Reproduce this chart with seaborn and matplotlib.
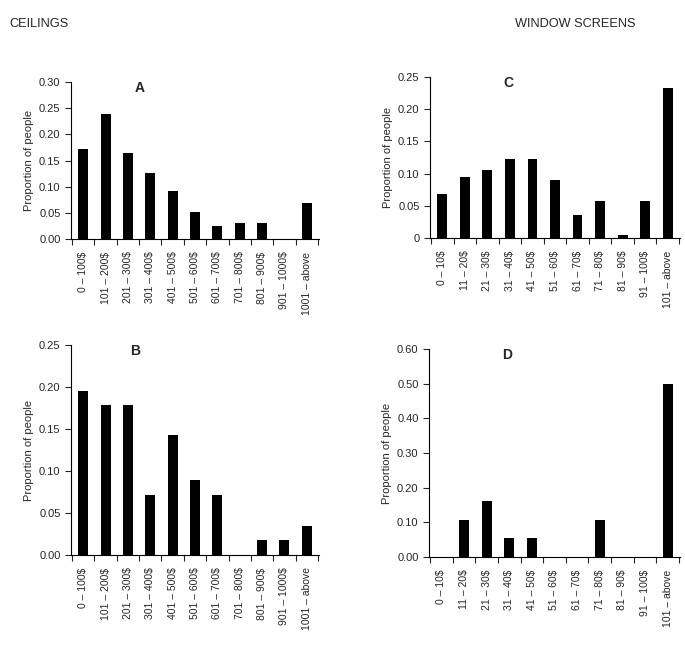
import numpy as np
import pandas as pd
import matplotlib
matplotlib.use('Agg')
import matplotlib.pyplot as plt
import seaborn as sns

# ── data ─────────────────────────────────────────────────────────────────────
ceil_cats = ['0 – 100$', '101 – 200$', '201 – 300$', '301 – 400$', '401 – 500$',
             '501 – 600$', '601 – 700$', '701 – 800$', '801 – 900$', '901 – 1000$',
             '1001 – above']
screen_cats = ['0 – 10$', '11 – 20$', '21 – 30$', '31 – 40$', '41 – 50$',
               '51 – 60$', '61 – 70$', '71 – 80$', '81 – 90$', '91 – 100$',
               '101 – above']

vals_a = [0.172, 0.239, 0.165, 0.127, 0.091, 0.052, 0.024, 0.031, 0.031, 0.0, 0.068]
vals_b = [0.195, 0.178, 0.178, 0.071, 0.143, 0.089, 0.071, 0.0, 0.018, 0.018, 0.035]
vals_c = [0.068, 0.094, 0.105, 0.122, 0.122, 0.090, 0.036, 0.058, 0.004, 0.058, 0.233]
vals_d = [0.0, 0.108, 0.162, 0.054, 0.054, 0.0, 0.0, 0.108, 0.0, 0.0, 0.498]

sns.set_style('ticks')
plt.rcParams['font.family'] = ['Liberation Sans', 'DejaVu Sans']

fig = plt.figure(figsize=(6.85, 6.47), dpi=100)
W, H = 685, 647

def make_ax(left, right, top, bottom):
    return fig.add_axes([left / W, 1 - bottom / H, (right - left) / W, (bottom - top) / H])

panels = [
    # letter, cats, vals, ymax, step, fmt, box(left,right,top,bottom), letter_x
    ('A', ceil_cats, vals_a, 0.30, 0.05, '{:.2f}', (71, 319, 82, 239), 140),
    ('C', screen_cats, vals_c, 0.25, 0.05, 'c', (430, 680, 77, 238), 508),
    ('B', ceil_cats, vals_b, 0.25, 0.05, '{:.2f}', (71, 319, 345, 555), 135),
    ('D', screen_cats, vals_d, 0.60, 0.10, '{:.2f}', (429, 680, 349, 557), 507),
]

for letter, cats, vals, ymax, step, fmt, box, lx in panels:
    ax = make_ax(*box)
    df = pd.DataFrame({'cat': cats, 'val': vals})
    sns.barplot(data=df, x='cat', y='val', color='black', saturation=1,
                width=0.44, linewidth=0, ax=ax)
    ax.set_xlim(-0.55, len(cats) - 0.45)
    ax.set_ylim(0, ymax)
    yt = np.arange(0, ymax + step / 2, step)
    ax.set_yticks(yt)
    if fmt == 'c':
        ax.set_yticklabels(['0'] + ['{:.2f}'.format(v) for v in yt[1:]])
    else:
        ax.set_yticklabels([fmt.format(v) for v in yt])
    ax.set_xticks(np.arange(len(cats)))
    ax.set_xticklabels(cats, rotation=90, fontsize=7.5)
    ax.set_xticks(np.arange(-0.5, len(cats) - 0.4, 1), minor=True)
    ax.tick_params(axis='x', which='major', length=0, pad=9)
    ax.tick_params(axis='x', which='minor', length=4, width=0.8, direction='out')
    ax.tick_params(axis='y', labelsize=8, length=4, width=0.8)
    ax.set_xlabel('')
    ax.set_ylabel('Proportion of people', fontsize=8)
    for s in ['top', 'right']:
        ax.spines[s].set_visible(False)
    for s in ['left', 'bottom']:
        ax.spines[s].set_linewidth(0.8)
        ax.spines[s].set_color('black')
    fig.text(lx / W, 1 - (box[2] + 6) / H, letter, fontsize=10, fontweight='bold',
             ha='center', va='center')

fig.text(9 / W, 1 - 24 / H, 'CEILINGS', fontsize=9.2, ha='left', va='center')
fig.text(515 / W, 1 - 24 / H, 'WINDOW SCREENS', fontsize=9.2, ha='left', va='center')

fig.savefig('out.png', dpi=100)
